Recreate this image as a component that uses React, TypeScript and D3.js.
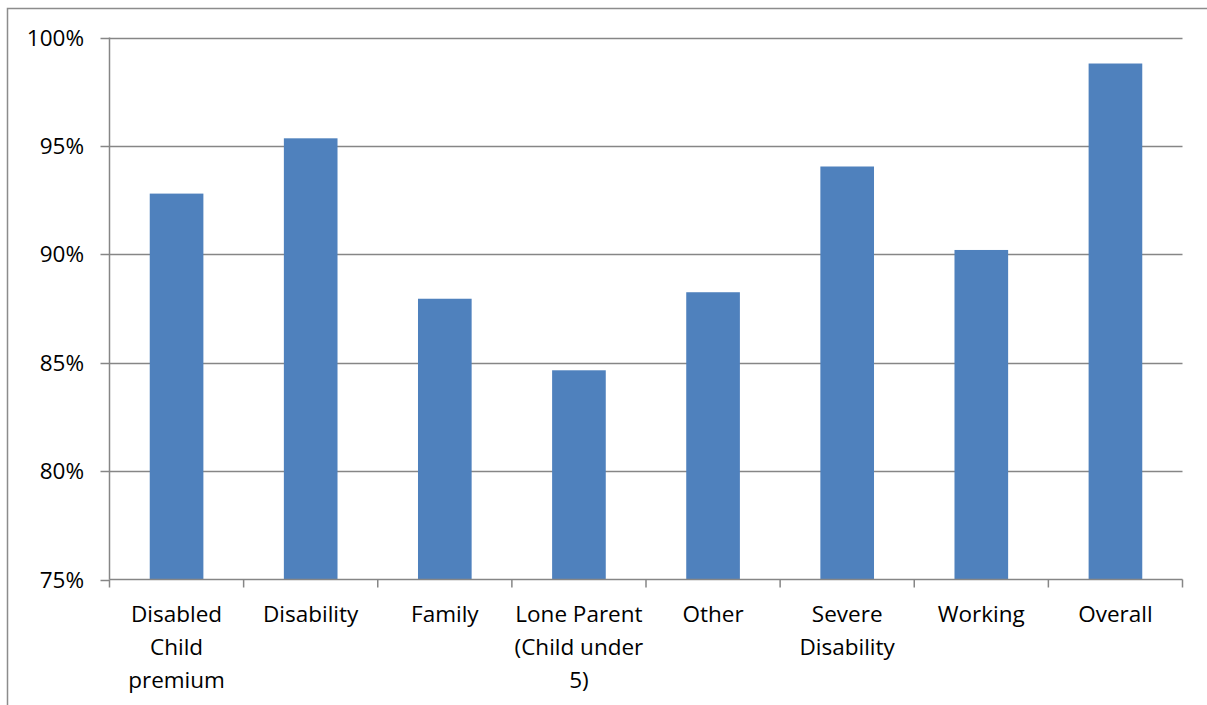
import React, { useEffect, useRef } from "react";
import * as d3 from "d3";

// Share of cases by group (percent)
const categories = [
  "Disabled Child premium",
  "Disability",
  "Family",
  "Lone Parent (Child under 5)",
  "Other",
  "Severe Disability",
  "Working",
  "Overall",
];
const values = [92.8, 95.35, 87.95, 84.65, 88.25, 94.05, 90.2, 98.8];
const yTicks = [75, 80, 85, 90, 95, 100];

const W = 1207;
const H = 705;
const FONT = "'Open Sans', sans-serif";

export default function App() {
  const ref = useRef<SVGSVGElement | null>(null);

  useEffect(() => {
    const svg = d3.select(ref.current);
    svg.selectAll("*").remove();

    const left = 109.5;
    const right = 1182.5;
    const top = 37.5;
    const bottom = 579.5;

    const x = d3.scaleBand<string>().domain(categories).range([left, right]).paddingInner(0.6).paddingOuter(0.3);
    const y = d3.scaleLinear().domain([75, 100]).range([bottom, top]);

    // outer chart frame
    svg
      .append("rect")
      .attr("x", 7.5)
      .attr("y", 8.5)
      .attr("width", W + 20)
      .attr("height", H + 20)
      .attr("fill", "white")
      .attr("stroke", "#8c8c8c")
      .attr("stroke-width", 1.5);

    // horizontal gridlines
    svg
      .append("g")
      .selectAll("line")
      .data(yTicks.filter((t) => t !== 75))
      .join("line")
      .attr("x1", left)
      .attr("x2", right)
      .attr("y1", (d) => Math.round(y(d)) + 0.5)
      .attr("y2", (d) => Math.round(y(d)) + 0.5)
      .attr("stroke", "#868686")
      .attr("stroke-width", 1.5);

    // bars
    svg
      .append("g")
      .selectAll("rect")
      .data(categories)
      .join("rect")
      .attr("x", (d) => x(d)!)
      .attr("width", x.bandwidth())
      .attr("y", (_, i) => y(values[i]))
      .attr("height", (_, i) => bottom - y(values[i]))
      .attr("fill", "#4F81BD");

    const axisColor = "#868686";

    // y axis line and ticks
    svg
      .append("line")
      .attr("x1", left)
      .attr("x2", left)
      .attr("y1", top)
      .attr("y2", bottom)
      .attr("stroke", axisColor)
      .attr("stroke-width", 1.5);
    const yt = svg.append("g").selectAll("g").data(yTicks).join("g");
    yt.append("line")
      .attr("x1", left - 9)
      .attr("x2", left)
      .attr("y1", (d) => Math.round(y(d)) + 0.5)
      .attr("y2", (d) => Math.round(y(d)) + 0.5)
      .attr("stroke", axisColor)
      .attr("stroke-width", 1.5);
    yt.append("text")
      .attr("x", 84)
      .attr("y", (d) => y(d) + 8)
      .attr("text-anchor", "end")
      .attr("font-family", FONT)
      .attr("font-size", 22.5)
      .attr("fill", "#000")
      .text((d) => `${d}%`);

    // x axis line and ticks
    svg
      .append("line")
      .attr("x1", left)
      .attr("x2", right)
      .attr("y1", bottom)
      .attr("y2", bottom)
      .attr("stroke", axisColor)
      .attr("stroke-width", 1.5);
    const step = x.step();
    const boundaries = d3.range(categories.length + 1).map((i) => left + i * step);
    svg
      .append("g")
      .selectAll("line")
      .data(boundaries)
      .join("line")
      .attr("x1", (d) => d)
      .attr("x2", (d) => d)
      .attr("y1", bottom)
      .attr("y2", bottom + 8)
      .attr("stroke", axisColor)
      .attr("stroke-width", 1.5);

    // category labels, word-wrapped to the band width
    const maxW = 140;
    const lineH = 33;
    categories.forEach((c) => {
      const cx = x(c)! + x.bandwidth() / 2;
      const t = svg
        .append("text")
        .attr("text-anchor", "middle")
        .attr("font-family", FONT)
        .attr("font-size", 22.5)
        .attr("fill", "#000");
      const words = c.split(" ");
      const lines: string[] = [];
      let cur = "";
      const probe = t.append("tspan");
      words.forEach((w) => {
        const trial = cur ? cur + " " + w : w;
        probe.text(trial);
        const len = (probe.node() as SVGTSpanElement).getComputedTextLength();
        if (len > maxW && cur) {
          lines.push(cur);
          cur = w;
        } else {
          cur = trial;
        }
      });
      if (cur) lines.push(cur);
      probe.remove();
      lines.forEach((ln, i) => {
        t.append("tspan")
          .attr("x", cx)
          .attr("y", 622 + i * lineH)
          .text(ln);
      });
    });
  }, []);

  return (
    <svg
      ref={ref}
      width={W}
      height={H}
      style={{ position: "absolute", left: 0, top: 0, background: "white" }}
    />
  );
}
